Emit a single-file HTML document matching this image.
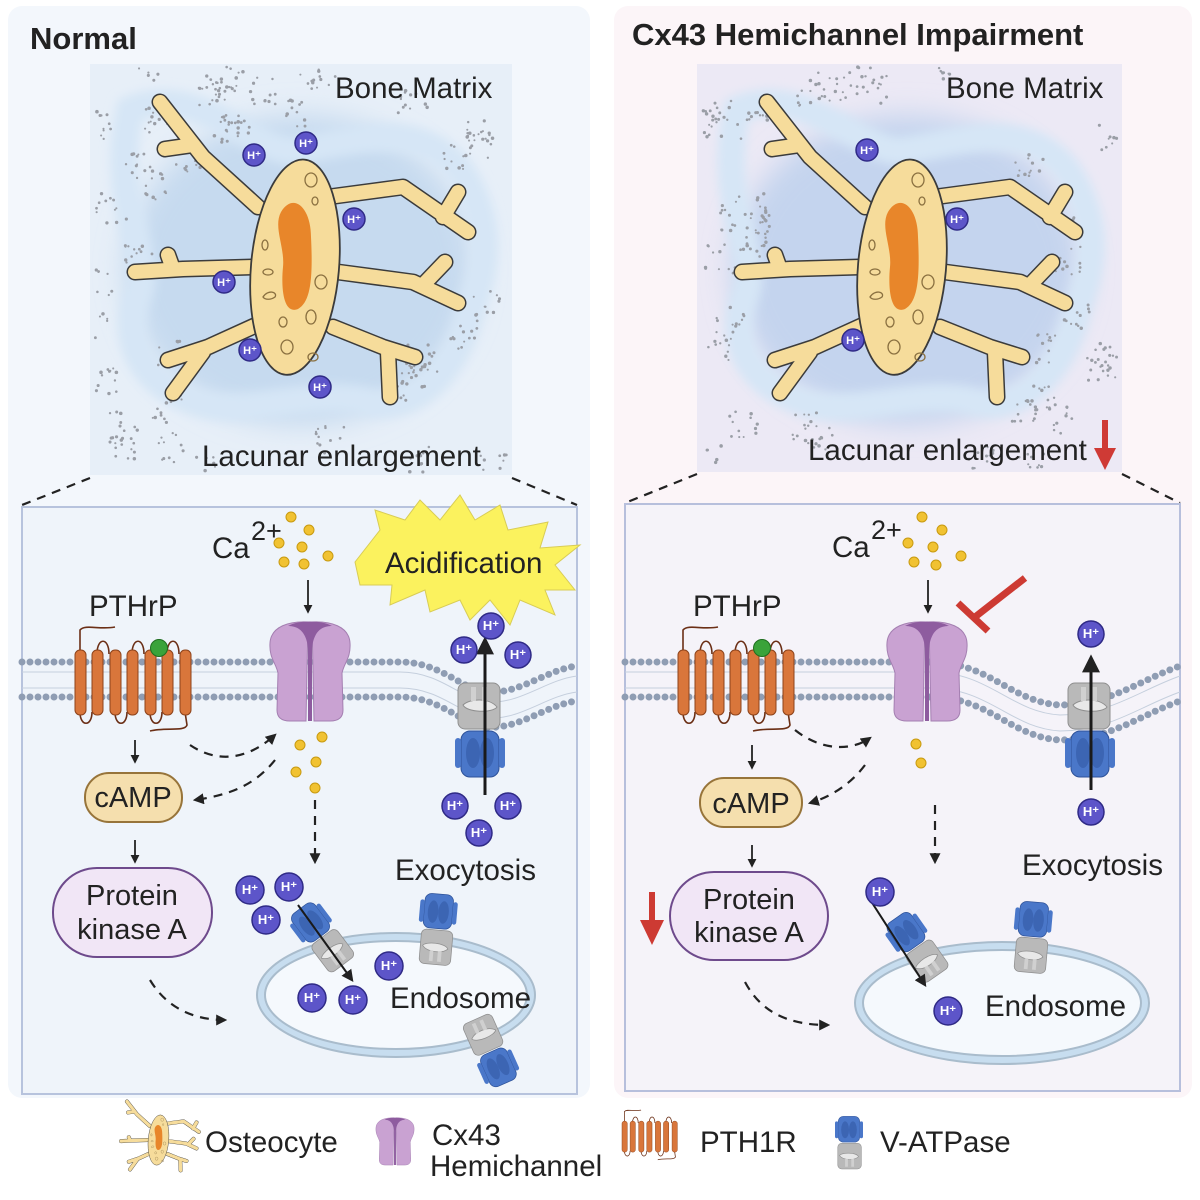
<!DOCTYPE html>
<html><head><meta charset="utf-8"><style>
html,body{margin:0;padding:0;background:#fff;}
svg{display:block;font-family:"Liberation Sans",sans-serif;}
.t{fill:#222;font-size:29.5px;}
.hp circle{fill:#5d55c9;stroke:#2f2a86;stroke-width:1.5;}
.hp text{fill:#fff;font-size:11px;font-weight:bold;text-anchor:middle;}
.dash{fill:none;stroke:#222;stroke-width:2.2;stroke-dasharray:9 7;}
.ar{fill:none;stroke:#222;stroke-width:1.8;}
.ca{fill:#f1c232;stroke:#c89a10;stroke-width:1;}
</style></head><body>
<svg width="1200" height="1200" viewBox="0 0 1200 1200" xmlns="http://www.w3.org/2000/svg">
<defs>
<marker id="ah" viewBox="0 0 10 10" refX="8" refY="5" markerWidth="6" markerHeight="6" orient="auto-start-reverse"><path d="M0,0 L10,5 L0,10 Z" fill="#222"/></marker>
<marker id="ahb" viewBox="0 0 10 10" refX="8" refY="5" markerWidth="5" markerHeight="5" orient="auto"><path d="M0,0 L10,5 L0,10 Z" fill="#222"/></marker>
<filter id="bl" x="-20%" y="-20%" width="140%" height="140%"><feGaussianBlur stdDeviation="14"/></filter>
<filter id="bl2"><feGaussianBlur stdDeviation="5"/></filter>
<symbol id="osteo" viewBox="0 0 600 600" overflow="visible">
 <g transform="translate(300,300)">
 <g fill="none" stroke-linecap="round" stroke-linejoin="round">
  <g stroke="#3b3b3b" stroke-width="17">
   <path d="M-35,-60 L-90,-110 L-133,-165 M-100,-122 L-128,-118"/>
   <path d="M-40,0 L-110,2 L-158,5 M-120,2 L-125,-12"/>
   <path d="M-30,55 L-85,80 L-125,93 M-90,85 L-120,126"/>
   <path d="M35,-70 L110,-80 L175,-35 M150,-50 L165,-75"/>
   <path d="M45,5 L120,15 L165,36 M130,18 L152,-5"/>
   <path d="M40,60 L90,80 L122,90 M95,85 L97,130"/>
  </g>
  <g stroke="#f6dc9b" stroke-width="14">
   <path d="M-35,-60 L-90,-110 L-133,-165 M-100,-122 L-128,-118"/>
   <path d="M-40,0 L-110,2 L-158,5 M-120,2 L-125,-12"/>
   <path d="M-30,55 L-85,80 L-125,93 M-90,85 L-120,126"/>
   <path d="M35,-70 L110,-80 L175,-35 M150,-50 L165,-75"/>
   <path d="M45,5 L120,15 L165,36 M130,18 L152,-5"/>
   <path d="M40,60 L90,80 L122,90 M95,85 L97,130"/>
  </g>
 </g>
 <ellipse cx="2" cy="0" rx="44" ry="108" transform="rotate(5)" fill="#f6dc9b" stroke="#3b3b3b" stroke-width="1.8"/>
 <path d="M-12,-55 C0,-75 18,-60 18,-30 C20,10 18,35 5,42 C-10,48 -12,20 -10,0 C-8,-20 -20,-40 -12,-55 Z" fill="#e8862a"/>
 <g fill="none" stroke="#8a7040" stroke-width="1.3">
  <ellipse cx="18" cy="-87" rx="6" ry="7"/><ellipse cx="22" cy="-66" rx="3" ry="4"/>
  <ellipse cx="-28" cy="-22" rx="3" ry="5"/><ellipse cx="28" cy="15" rx="6" ry="7"/>
  <ellipse cx="-25" cy="5" rx="5" ry="3"/><path d="M-30,30 C-25,22 -15,25 -18,30 C-22,33 -28,33 -30,30Z"/>
  <ellipse cx="-10" cy="55" rx="4" ry="5"/><ellipse cx="18" cy="50" rx="5" ry="7"/>
  <ellipse cx="-6" cy="80" rx="6" ry="7"/><ellipse cx="20" cy="90" rx="5" ry="4"/>
 </g>
 </g>
</symbol>
<symbol id="chan" viewBox="0 0 84 105" overflow="visible">
 <path d="M40,4 C22,3 3,8 2,25 C1,40 8,45 10,55 L9,92 C9,100 14,103 22,103 L38,103 L40,4 Z" fill="#c9a2d2" stroke="#a47fb1" stroke-width="1"/>
 <path d="M44,4 C62,3 81,8 82,25 C83,40 76,45 74,55 L75,92 C75,100 70,103 62,103 L46,103 L44,4 Z" fill="#c9a2d2" stroke="#a47fb1" stroke-width="1"/>
 <path d="M20,8 C30,2 54,2 64,8 C55,8 46,12 44,30 L44,103 L40,103 L40,30 C38,12 29,8 20,8 Z" fill="#8e5c9f"/>
</symbol>
<symbol id="gpcr" viewBox="0 0 130 100" overflow="visible">
 <g fill="none" stroke="#6b2f16" stroke-width="1.6">
  <path d="M5,28 L5,3 C10,-3 25,3 40,0"/>
  <path d="M22,27 C22,10 34,10 34,27"/>
  <path d="M57,27 C57,10 69,10 69,27"/>
  <path d="M92,27 C92,10 104,10 104,27"/>
  <path d="M5,85 C5,100 17,100 17,85"/>
  <path d="M40,85 C40,100 52,100 52,85"/>
  <path d="M75,85 C75,100 87,100 87,85"/>
  <path d="M110,85 L112,98 C110,105 90,100 75,104"/>
 </g>
 <g fill="#d9763b" stroke="#8d431b" stroke-width="1">
  <rect x="0" y="23" width="11" height="65" rx="5"/><rect x="17" y="23" width="11" height="65" rx="5"/>
  <rect x="35" y="23" width="11" height="65" rx="5"/><rect x="52" y="23" width="11" height="65" rx="5"/>
  <rect x="70" y="23" width="11" height="65" rx="5"/><rect x="87" y="23" width="11" height="65" rx="5"/>
  <rect x="105" y="23" width="11" height="65" rx="5"/>
 </g>
</symbol>
<symbol id="vat" viewBox="0 0 50 100" overflow="visible">
 <rect x="3" y="0" width="42" height="46" rx="7" fill="#b9b9b9" stroke="#8f8f8f"/>
 <path d="M8,22 C15,15 35,15 42,24 C38,30 12,30 8,22Z" fill="#e8e8e8" stroke="#8f8f8f"/>
 <rect x="16" y="4" width="5" height="14" fill="#d0d0d0"/><rect x="27" y="4" width="5" height="14" fill="#d0d0d0"/>
 <rect x="6" y="48" width="38" height="46" rx="9" fill="#4a77c9" stroke="#2e5299"/>
 <rect x="0" y="55" width="6" height="30" rx="3" fill="#4a77c9"/><rect x="44" y="55" width="6" height="30" rx="3" fill="#4a77c9"/>
 <ellipse cx="18" cy="70" rx="7" ry="15" fill="#3c65b3"/><ellipse cx="32" cy="70" rx="7" ry="15" fill="#3c65b3"/>
</symbol>
</defs>

<!-- panel backgrounds -->
<rect x="8" y="6" width="582" height="1092" rx="14" fill="#f3f7fc"/>
<rect x="614" y="6" width="578" height="1092" rx="14" fill="#fcf5f8"/>
<text x="30" y="49" style="font-size:31px;font-weight:bold;fill:#222;">Normal</text>
<text x="632" y="45" style="font-size:31px;font-weight:bold;fill:#222;">Cx43 Hemichannel Impairment</text>

<!-- top images -->
<rect x="90" y="64" width="422" height="411" fill="#e7eff8"/>
<rect x="697" y="64" width="425" height="408" fill="#ece9f5"/>
<g filter="url(#bl)">
 <ellipse cx="300" cy="270" rx="175" ry="155" fill="#c6daef"/>
 <ellipse cx="907" cy="270" rx="175" ry="155" fill="#c4d4ee"/>
</g>
<g filter="url(#bl2)">
 <path d="M130,110 C200,80 260,160 300,150 C360,140 420,120 460,170 C500,230 480,280 470,310 C460,360 420,420 360,400 C300,390 240,420 190,400 C140,380 120,340 140,290 C150,250 110,200 130,110Z" fill="none" stroke="#d6e6f6" stroke-width="28"/>
 <path d="M737,110 C807,80 867,160 907,150 C967,140 1027,120 1067,170 C1107,230 1087,280 1077,310 C1067,360 1027,420 967,400 C907,390 847,420 797,400 C747,380 727,340 747,290 C757,250 717,200 737,110Z" fill="none" stroke="#d6e6f6" stroke-width="28"/>
</g>
<g id="specks"></g>
<use href="#osteo" x="-7" y="-33" width="600" height="600"/>
<use href="#osteo" x="600" y="-33" width="600" height="600"/>
<text x="335" y="98" class="t">Bone Matrix</text>
<text x="946" y="98" class="t">Bone Matrix</text>
<text x="202" y="466" class="t">Lacunar enlargement</text>
<text x="808" y="460" class="t">Lacunar enlargement</text>
<path d="M1105,420 L1105,452" stroke="#cf3a35" stroke-width="6"/><path d="M1094,448 L1116,448 L1105,470Z" fill="#cf3a35"/>

<!-- H+ top -->
<g class="hp">
<g transform="translate(254,155)"><circle r="11"/><text y="4">H⁺</text></g>
<g transform="translate(306,143)"><circle r="11"/><text y="4">H⁺</text></g>
<g transform="translate(354,219)"><circle r="11"/><text y="4">H⁺</text></g>
<g transform="translate(224,282)"><circle r="11"/><text y="4">H⁺</text></g>
<g transform="translate(250,350)"><circle r="11"/><text y="4">H⁺</text></g>
<g transform="translate(320,387)"><circle r="11"/><text y="4">H⁺</text></g>
<g transform="translate(867,150)"><circle r="11"/><text y="4">H⁺</text></g>
<g transform="translate(957,219)"><circle r="11"/><text y="4">H⁺</text></g>
<g transform="translate(853,340)"><circle r="11"/><text y="4">H⁺</text></g>
</g>

<!-- zoom lines -->
<path d="M90,478 L22,505 M512,478 L577,505" class="dash" stroke-width="1.6"/>
<path d="M697,474 L625,503 M1122,474 L1180,503" class="dash" stroke-width="1.6"/>

<!-- bottom boxes -->
<rect x="22" y="507" width="555" height="587" fill="#eff4fa" stroke="#b7c3dd" stroke-width="2"/>
<rect x="625" y="504" width="555" height="587" fill="#f5f3f9" stroke="#b7bfdc" stroke-width="2"/>

<!-- membranes -->
<g fill="none">
 <g stroke="#c5cfdd" stroke-width="1">
  <path d="M22,672 L400,672 C440,672 460,698 485,702 C520,705 545,680 577,676"/>
  <path d="M22,688 L400,688 C440,688 460,714 485,718 C520,721 545,696 577,692"/>
  <path d="M625,672 L930,672 C990,672 1010,712 1060,715 C1110,715 1140,690 1180,676"/>
  <path d="M625,688 L930,688 C990,688 1010,728 1060,731 C1110,731 1140,706 1180,692"/>
 </g>
 <g stroke="#8f9db3" stroke-width="7" stroke-linecap="round" stroke-dasharray="0 8">
  <path d="M22,662 L400,662 C440,662 460,688 485,692 C520,695 545,670 577,666"/>
  <path d="M22,697 L400,697 C440,697 460,723 485,727 C520,730 545,705 577,701"/>
  <path d="M625,662 L930,662 C990,662 1010,702 1060,705 C1110,705 1140,680 1180,666"/>
  <path d="M625,697 L930,697 C990,697 1010,737 1060,740 C1110,740 1140,715 1180,701"/>
 </g>
</g>

<!-- LEFT bottom -->
<path d="M355,562 L380,530 L375,510 L405,520 L420,500 L440,520 L460,495 L475,520 L500,505 L508,530 L548,522 L540,548 L580,545 L555,565 L575,590 L545,590 L555,615 L520,600 L510,625 L490,600 L470,620 L460,600 L430,612 L425,590 L390,605 L392,585 L360,585 Z" fill="#fbf25e" stroke="#d8cc55" stroke-width="1"/>
<text x="385" y="573" class="t">Acidification</text>
<text x="212" y="558" class="t">Ca</text><text x="251" y="540" style="font-size:27px;fill:#222">2+</text>
<g class="ca"><circle cx="291" cy="517" r="5"/><circle cx="309" cy="530" r="5"/><circle cx="279" cy="543" r="5"/><circle cx="302" cy="547" r="5"/><circle cx="328" cy="556" r="5"/><circle cx="284" cy="562" r="5"/><circle cx="304" cy="564" r="5"/>
<circle cx="300" cy="745" r="5"/><circle cx="322" cy="737" r="5"/><circle cx="296" cy="772" r="5"/><circle cx="316" cy="762" r="5"/><circle cx="315" cy="788" r="5"/></g>
<path d="M308,580 L308,612" class="ar" marker-end="url(#ahb)"/>
<use href="#chan" x="268" y="618" width="84" height="105"/>
<text x="89" y="616" class="t">PTHrP</text>
<use href="#gpcr" x="75" y="627" width="130" height="100"/>
<circle cx="159" cy="648" r="8.5" fill="#3aa33a" stroke="#1f6e1f"/>
<use href="#vat" x="455" y="683" width="50" height="100"/>
<path d="M485,795 L485,640" stroke="#1a1a1a" stroke-width="3" marker-end="url(#ah)"/>
<g class="hp">
<g transform="translate(491,626)"><circle r="13"/><text y="4" style="font-size:13px">H⁺</text></g>
<g transform="translate(464,650)"><circle r="13"/><text y="4" style="font-size:13px">H⁺</text></g>
<g transform="translate(518,655)"><circle r="13"/><text y="4" style="font-size:13px">H⁺</text></g>
<g transform="translate(455,806)"><circle r="13"/><text y="4" style="font-size:13px">H⁺</text></g>
<g transform="translate(508,806)"><circle r="13"/><text y="4" style="font-size:13px">H⁺</text></g>
<g transform="translate(479,833)"><circle r="13"/><text y="4" style="font-size:13px">H⁺</text></g>
</g>
<path d="M135,740 L135,762" class="ar" marker-end="url(#ahb)"/>
<rect x="85" y="773" width="97" height="49" rx="24" fill="#f5dfae" stroke="#97743a" stroke-width="2"/>
<text x="133" y="807" class="t" text-anchor="middle" style="font-size:29px">cAMP</text>
<path d="M135,840 L135,862" class="ar" marker-end="url(#ahb)"/>
<rect x="53" y="868" width="159" height="89" rx="44" fill="#f1e6f6" stroke="#6e4a8c" stroke-width="2"/>
<text x="132" y="905" class="t" text-anchor="middle" style="font-size:29px">Protein</text>
<text x="132" y="939" class="t" text-anchor="middle" style="font-size:29px">kinase A</text>
<path d="M190,745 C215,762 245,762 275,735" class="dash" marker-end="url(#ahb)"/>
<path d="M275,760 C255,785 230,795 195,800" class="dash" marker-end="url(#ahb)"/>
<path d="M315,800 L315,862" class="dash" marker-end="url(#ahb)"/>
<path d="M150,980 C165,1005 190,1020 225,1020" class="dash" marker-end="url(#ahb)"/>
<ellipse cx="396" cy="995" rx="135" ry="58" fill="#f5f9fd" stroke="#c7ddef" stroke-width="8"/>
<ellipse cx="396" cy="995" rx="139" ry="62" fill="none" stroke="#a9bccc" stroke-width="2"/>
<ellipse cx="396" cy="995" rx="131" ry="54" fill="none" stroke="#a9bccc" stroke-width="2"/>
<use href="#vat" width="38" height="75" transform="translate(320,935) rotate(143) translate(-19,-37.5)"/>
<use href="#vat" width="38" height="75" transform="translate(437,927) rotate(185) translate(-19,-37.5)"/>
<use href="#vat" width="38" height="75" transform="translate(492,1053) rotate(-24) translate(-19,-37.5)"/>
<path d="M298,905 L352,980" stroke="#1a1a1a" stroke-width="2" marker-end="url(#ah)"/>
<g class="hp">
<g transform="translate(250,890)"><circle r="14"/><text y="4" style="font-size:13px">H⁺</text></g>
<g transform="translate(289,887)"><circle r="14"/><text y="4" style="font-size:13px">H⁺</text></g>
<g transform="translate(266,920)"><circle r="14"/><text y="4" style="font-size:13px">H⁺</text></g>
<g transform="translate(389,966)"><circle r="14"/><text y="4" style="font-size:13px">H⁺</text></g>
<g transform="translate(312,998)"><circle r="14"/><text y="4" style="font-size:13px">H⁺</text></g>
<g transform="translate(353,1000)"><circle r="14"/><text y="4" style="font-size:13px">H⁺</text></g>
</g>
<text x="395" y="880" class="t">Exocytosis</text>
<text x="390" y="1008" class="t">Endosome</text>

<!-- RIGHT bottom -->
<text x="832" y="557" class="t">Ca</text><text x="871" y="539" style="font-size:27px;fill:#222">2+</text>
<g class="ca"><circle cx="922" cy="517" r="5"/><circle cx="942" cy="530" r="5"/><circle cx="908" cy="543" r="5"/><circle cx="933" cy="547" r="5"/><circle cx="961" cy="556" r="5"/><circle cx="914" cy="562" r="5"/><circle cx="936" cy="565" r="5"/>
<circle cx="916" cy="744" r="5"/><circle cx="921" cy="763" r="5"/></g>
<path d="M928,580 L928,612" class="ar" marker-end="url(#ahb)"/>
<use href="#chan" x="885" y="618" width="84" height="105"/>
<path d="M1025,578 L975,617" stroke="#cd3a33" stroke-width="7"/>
<path d="M958,603 L988,631" stroke="#cd3a33" stroke-width="7"/>
<text x="693" y="616" class="t">PTHrP</text>
<use href="#gpcr" x="678" y="627" width="130" height="100"/>
<circle cx="762" cy="648" r="8.5" fill="#3aa33a" stroke="#1f6e1f"/>
<use href="#vat" x="1065" y="683" width="50" height="100"/>
<path d="M1091,790 L1091,658" stroke="#1a1a1a" stroke-width="3" marker-end="url(#ah)"/>
<g class="hp">
<g transform="translate(1091,634)"><circle r="13"/><text y="4" style="font-size:13px">H⁺</text></g>
<g transform="translate(1091,812)"><circle r="13"/><text y="4" style="font-size:13px">H⁺</text></g>
</g>
<path d="M752,745 L752,768" class="ar" marker-end="url(#ahb)"/>
<rect x="700" y="778" width="102" height="49" rx="24" fill="#f5dfae" stroke="#97743a" stroke-width="2"/>
<text x="751" y="813" class="t" text-anchor="middle" style="font-size:29px">cAMP</text>
<path d="M752,845 L752,866" class="ar" marker-end="url(#ahb)"/>
<rect x="670" y="872" width="158" height="88" rx="44" fill="#f1e6f6" stroke="#6e4a8c" stroke-width="2"/>
<text x="749" y="909" class="t" text-anchor="middle" style="font-size:29px">Protein</text>
<text x="749" y="942" class="t" text-anchor="middle" style="font-size:29px">kinase A</text>
<path d="M652,892 L652,925" stroke="#cd3a33" stroke-width="6"/><path d="M640,920 L664,920 L652,945Z" fill="#cd3a33"/>
<path d="M795,730 C820,750 850,752 870,738" class="dash" marker-end="url(#ahb)"/>
<path d="M865,765 C850,785 830,797 810,803" class="dash" marker-end="url(#ahb)"/>
<path d="M935,805 L935,862" class="dash" marker-end="url(#ahb)"/>
<path d="M745,982 C760,1010 785,1025 828,1025" class="dash" marker-end="url(#ahb)"/>
<ellipse cx="1002" cy="1003" rx="143" ry="57" fill="#f5f9fd" stroke="#c7ddef" stroke-width="8"/>
<ellipse cx="1002" cy="1003" rx="147" ry="61" fill="none" stroke="#a9bccc" stroke-width="2"/>
<ellipse cx="1002" cy="1003" rx="139" ry="53" fill="none" stroke="#a9bccc" stroke-width="2"/>
<use href="#vat" width="38" height="75" transform="translate(915,945) rotate(145) translate(-19,-37.5)"/>
<use href="#vat" width="38" height="75" transform="translate(1032,935) rotate(185) translate(-19,-37.5)"/>
<path d="M869,898 L925,985" stroke="#1a1a1a" stroke-width="2" marker-end="url(#ah)"/>
<g class="hp">
<g transform="translate(880,892)"><circle r="14"/><text y="4" style="font-size:13px">H⁺</text></g>
<g transform="translate(948,1011)"><circle r="14"/><text y="4" style="font-size:13px">H⁺</text></g>
</g>
<text x="1022" y="875" class="t">Exocytosis</text>
<text x="985" y="1016" class="t">Endosome</text>

<!-- legend -->
<use href="#osteo" x="88" y="1070" width="140" height="140"/>
<text x="205" y="1152" class="t">Osteocyte</text>
<use href="#chan" x="375" y="1115" width="40" height="52"/>
<text x="432" y="1145" class="t">Cx43</text>
<text x="430" y="1176" class="t">Hemichannel</text>
<use href="#gpcr" x="622" y="1108" width="62" height="52"/>
<text x="700" y="1152" class="t">PTH1R</text>
<use href="#vat" width="34" height="56" transform="translate(866,1169) rotate(180)"/>
<text x="880" y="1152" class="t">V-ATPase</text>
</svg>
<script>
(function(){
var g=document.getElementById('specks');var ns="http://www.w3.org/2000/svg";
var s=7;function r(){s=(s*9301+49297)%233280;return s/233280;}
var boxes=[[90,64,422,411],[697,64,425,408]];
boxes.forEach(function(b){
 for(var c=0;c<60;c++){
  var cx=b[0]+r()*b[2],cy=b[1]+r()*b[3];
  var dx=cx-(b[0]+b[2]/2),dy=cy-(b[1]+b[3]/2);
  if(Math.sqrt(dx*dx+dy*dy)<150){continue;}
  for(var k=0;k<12;k++){
   var e=document.createElementNS(ns,'circle');
   var x=cx+(r()-0.5)*30,y=cy+(r()-0.5)*30;
   if(x<b[0]+3||x>b[0]+b[2]-3||y<b[1]+3||y>b[1]+b[3]-3)continue;
   e.setAttribute('cx',x);e.setAttribute('cy',y);e.setAttribute('r',1+r()*0.8);e.setAttribute('fill','#9a9ea6');
   g.appendChild(e);
  }
 }
});
})();
</script>
</body></html>
